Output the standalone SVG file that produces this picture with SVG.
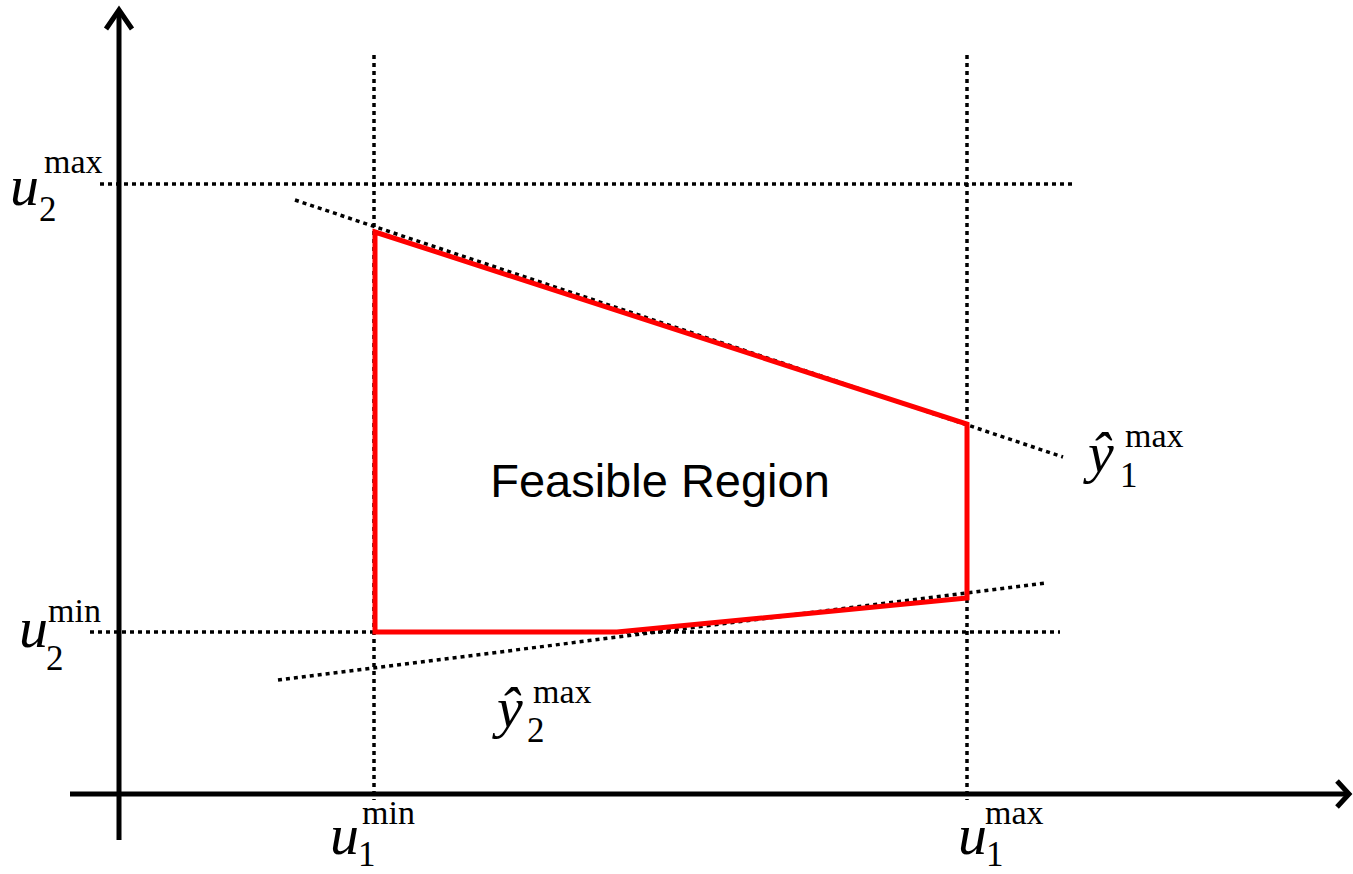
<svg xmlns="http://www.w3.org/2000/svg" width="1353" height="874" viewBox="0 0 1353 874">
<style>
.dot{stroke:#000;stroke-width:3.5;stroke-dasharray:4 4;fill:none}
.axis{stroke:#000;stroke-width:5;fill:none}
.m{font-family:"Liberation Serif",serif;font-style:italic;font-size:58px}
.s{font-family:"Liberation Serif",serif;font-size:35px}
.sup{font-family:"Liberation Serif",serif;font-size:34px}
</style>
<rect width="1353" height="874" fill="#fff"/>
<g id="connectors">
<line class="dot" x1="374" y1="55" x2="374" y2="800"/>
<line class="dot" x1="967" y1="55" x2="967" y2="800"/>
<line class="dot" x1="100" y1="184" x2="1075" y2="184"/>
<line class="dot" x1="90" y1="632" x2="1060" y2="632"/>
<line class="dot" x1="295" y1="200" x2="1063" y2="457"/>
<line class="dot" x1="278" y1="680" x2="1045" y2="583"/>
<line class="axis" x1="119" y1="840" x2="119" y2="11"/>
<polyline class="axis" points="106,29 119,10 132,29"/>
<line class="axis" x1="70" y1="794" x2="1348" y2="794"/>
<polyline class="axis" points="1337,781 1349,794 1337,807"/>
</g>
<g id="feasible-region">
<polygon points="375,232 967,424 967,598 617,632 375,632" fill="none" stroke="#ff0000" stroke-width="5"/>
<text x="660" y="497" text-anchor="middle" font-family="Liberation Sans, Arial, sans-serif" font-size="47">Feasible Region</text>
</g>
<g id="label-u2max">
<text class="m" x="10" y="205">u</text>
<text class="s" x="39" y="221">2</text>
<text class="sup" x="44" y="173">max</text>
</g>
<g id="label-u2min">
<text class="m" x="19" y="647">u</text>
<text class="s" x="46" y="670">2</text>
<text class="sup" x="48" y="622">min</text>
</g>
<g id="label-u1min">
<text class="m" x="330" y="854">u</text>
<text class="s" x="358" y="866">1</text>
<text class="sup" x="362" y="824">min</text>
</g>
<g id="label-u1max">
<text class="m" x="958" y="854">u</text>
<text class="s" x="986" y="866">1</text>
<text class="sup" x="985" y="824">max</text>
</g>
<g id="label-y1max">
<text class="m" x="1088" y="472">ŷ</text>
<text class="s" x="1120" y="487">1</text>
<text class="sup" x="1125" y="447">max</text>
</g>
<g id="label-y2max">
<text class="m" x="497" y="727">ŷ</text>
<text class="s" x="527" y="742">2</text>
<text class="sup" x="533" y="703">max</text>
</g>
</svg>
